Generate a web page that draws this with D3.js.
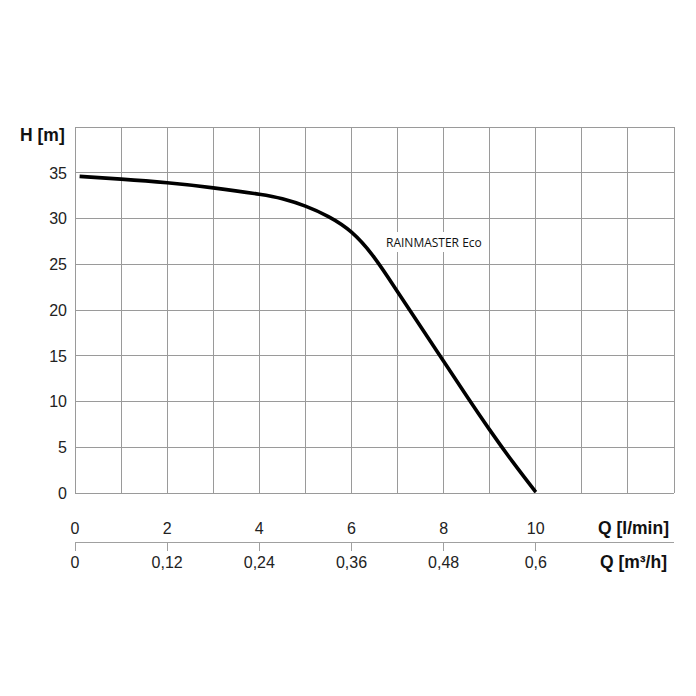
<!DOCTYPE html>
<html>
<head>
<meta charset="utf-8">
<script src="https://cdn.jsdelivr.net/npm/d3@7"></script>
<style>
  html, body { margin: 0; padding: 0; background: #fff; }
  svg { display: block; }
</style>
</head>
<body>
<svg id="chart" width="696" height="696"></svg>
<script>
// ---- data ----
const flowLmin = [0.1, 1, 2, 3, 4, 4.5, 5, 5.5, 6, 6.5, 7, 7.5, 8, 8.5, 9, 9.5, 10];
const headM    = [34.6, 34.3, 33.9, 33.35, 32.65, 32.15, 31.35, 30.2, 28.5, 25.7, 22.0, 18.2, 14.4, 10.6, 6.9, 3.4, 0.1];
const seriesName = "RAINMASTER Eco";
const yTicks = [0, 5, 10, 15, 20, 25, 30, 35];
const xGrid = [0,1,2,3,4,5,6,7,8,9,10,11,12,13];
const lminTicks = [0, 2, 4, 6, 8, 10];
const lminLabels = ["0", "2", "4", "6", "8", "10"];
const m3hLabels = ["0", "0,12", "0,24", "0,36", "0,48", "0,6"];
const yTitle = "H [m]";
const xTitle1 = "Q [l/min]";
const xTitle2 = "Q [m³/h]";

(function () {
// ---- layout ----
const pLeft = 75, pRight = 674, pTop = 127, pBottom = 493;
const x = d3.scaleLinear().domain([0, 13]).range([pLeft, pRight]);
const y = d3.scaleLinear().domain([0, 40]).range([pBottom, pTop]);

const svg = d3.select("#chart");
const font = "'Liberation Sans', Arial, sans-serif";
const gridColor = "#9a9a9a";

// grid
const g = svg.append("g");
g.selectAll("line.v").data(xGrid).enter().append("line")
  .attr("x1", d => x(d)).attr("x2", d => x(d))
  .attr("y1", pTop).attr("y2", pBottom)
  .attr("stroke", gridColor).attr("stroke-width", 1)
  .attr("shape-rendering", "crispEdges");
g.selectAll("line.h").data([...yTicks, 40]).enter().append("line")
  .attr("x1", pLeft).attr("x2", pRight)
  .attr("y1", d => y(d)).attr("y2", d => y(d))
  .attr("stroke", gridColor).attr("stroke-width", 1)
  .attr("shape-rendering", "crispEdges");

// y tick labels
svg.append("g").selectAll("text").data(yTicks).enter().append("text")
  .attr("x", 67).attr("y", d => y(d)).attr("dy", "0.36em")
  .attr("text-anchor", "end")
  .attr("font-family", font).attr("font-size", 16).attr("fill", "#222")
  .text(d => d);

svg.append("text")
  .attr("x", 20).attr("y", 135).attr("dy", "0.36em")
  .attr("font-family", font).attr("font-size", 17.5).attr("font-weight", "bold")
  .attr("fill", "#111").text(yTitle);

// curve
const pts = flowLmin.map((q, i) => [q, headM[i]]);
const line = d3.line().x(d => x(d[0])).y(d => y(d[1])).curve(d3.curveNatural);
svg.append("path").datum(pts)
  .attr("d", line).attr("fill", "none")
  .attr("stroke", "#000").attr("stroke-width", 3.6)
  .attr("stroke-linecap", "butt");

// series label with white box
const lbl = svg.append("g");
lbl.append("rect").attr("x", 383).attr("y", 232).attr("width", 103).attr("height", 20).attr("fill", "#fff");
lbl.append("text")
  .attr("x", 386).attr("y", 246.5)
  .attr("font-family", "'Open Sans', sans-serif").attr("font-size", 12).attr("fill", "#111")
  .text(seriesName);

// lower axes
const axisY = 542;
svg.append("line").attr("x1", x(0)).attr("x2", pRight).attr("y1", axisY).attr("y2", axisY)
  .attr("stroke", "#a0a0a0").attr("stroke-width", 1).attr("shape-rendering", "crispEdges");
svg.append("g").selectAll("line").data(lminTicks).enter().append("line")
  .attr("x1", d => x(d)).attr("x2", d => x(d))
  .attr("y1", axisY).attr("y2", axisY + 9)
  .attr("stroke", "#a0a0a0").attr("stroke-width", 1).attr("shape-rendering", "crispEdges");

svg.append("g").selectAll("text").data(lminTicks).enter().append("text")
  .attr("x", d => x(d)).attr("y", 528).attr("dy", "0.36em")
  .attr("text-anchor", "middle")
  .attr("font-family", font).attr("font-size", 16).attr("fill", "#222")
  .text((d, i) => lminLabels[i]);
svg.append("g").selectAll("text").data(lminTicks).enter().append("text")
  .attr("x", d => x(d)).attr("y", 562).attr("dy", "0.36em")
  .attr("text-anchor", "middle")
  .attr("font-family", font).attr("font-size", 16).attr("fill", "#222")
  .text((d, i) => m3hLabels[i]);

svg.append("text").attr("x", 669).attr("y", 528).attr("dy", "0.36em")
  .attr("text-anchor", "end")
  .attr("font-family", font).attr("font-size", 17.5).attr("font-weight", "bold")
  .attr("fill", "#111").text(xTitle1);
svg.append("text").attr("x", 667).attr("y", 562).attr("dy", "0.36em")
  .attr("text-anchor", "end")
  .attr("font-family", font).attr("font-size", 17.5).attr("font-weight", "bold")
  .attr("fill", "#111").text(xTitle2);
})();
</script>
</body>
</html>
